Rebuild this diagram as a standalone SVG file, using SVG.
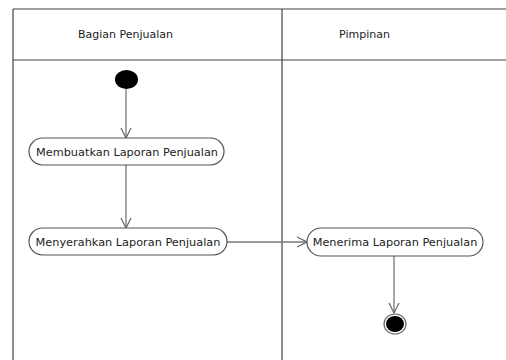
<svg xmlns="http://www.w3.org/2000/svg" width="506" height="360" viewBox="0 0 506 360">
  <style>
    .lane { stroke: #444; stroke-width: 1.2; fill: none; }
    .hdr { font-family: "DejaVu Sans", Verdana, sans-serif; font-size: 11px; fill: #222; }
    .act rect { fill: #fff; stroke: #555; stroke-width: 1.2; }
    .act text { font-family: "DejaVu Sans", Verdana, sans-serif; font-size: 11.3px; fill: #222; text-anchor: middle; }
    .flow { stroke: #777; stroke-width: 1.3; fill: none; marker-end: url(#open); }
  </style>
  <defs>
    <marker id="open" viewBox="0 0 12 12" refX="11" refY="6" markerWidth="12" markerHeight="12" markerUnits="userSpaceOnUse" orient="auto">
      <path d="M1,1 L11,6 L1,11" fill="none" stroke="#666" stroke-width="1.2"/>
    </marker>
  </defs>
  <rect width="506" height="360" fill="#fff"/>

  <!-- swimlanes -->
  <g id="lanes">
    <path class="lane" d="M13,9 H506 M13,60 H506 M13,9 V360 M282,9 V360"/>
    <text class="hdr" x="78" y="38">Bagian Penjualan</text>
    <text class="hdr" x="339" y="38">Pimpinan</text>
  </g>

  <!-- connectors -->
  <g id="connectors">
    <path class="flow" d="M126,89 V138"/>
    <path class="flow" d="M126,165 V228"/>
    <path class="flow" d="M227,242 H307"/>
    <path class="flow" d="M394,256 V313"/>
  </g>

  <g id="start">
    <ellipse cx="126.5" cy="79.5" rx="11.5" ry="9.5" fill="#000"/>
  </g>

  <g id="buat" class="act">
    <rect x="29" y="138" width="195" height="27" rx="13.5"/>
    <text x="127" y="156">Membuatkan Laporan Penjualan</text>
  </g>

  <g id="serah" class="act">
    <rect x="29" y="228" width="198" height="27" rx="13.5"/>
    <text x="128" y="246">Menyerahkan Laporan Penjualan</text>
  </g>

  <g id="terima" class="act">
    <rect x="307" y="228" width="176" height="28" rx="14"/>
    <text x="395" y="246">Menerima Laporan Penjualan</text>
  </g>

  <g id="end">
    <ellipse cx="395" cy="324" rx="11" ry="10" fill="#fff" stroke="#666" stroke-width="1.2"/>
    <ellipse cx="395" cy="324" rx="9" ry="8" fill="#000"/>
  </g>
</svg>
